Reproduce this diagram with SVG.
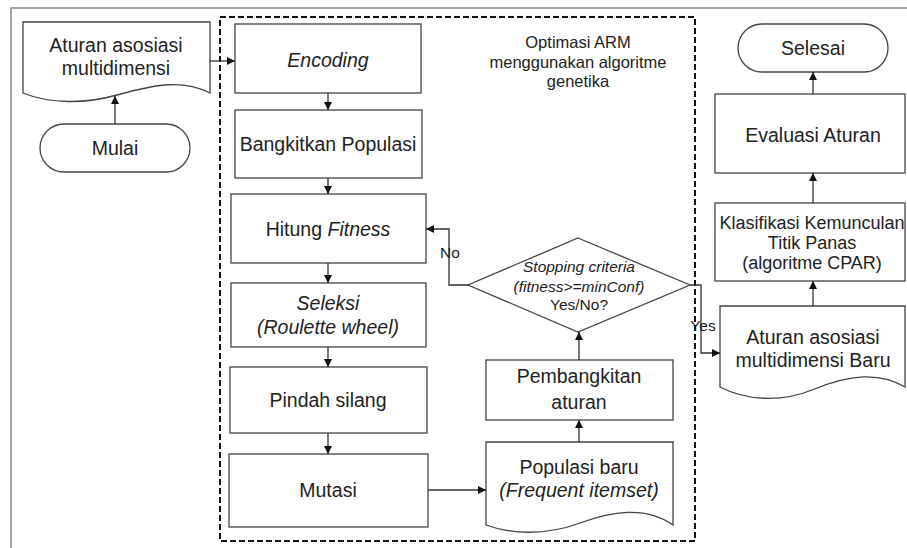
<svg xmlns="http://www.w3.org/2000/svg" width="907" height="548" viewBox="0 0 907 548">
<style>
.n{fill:#fff;stroke:#444;stroke-width:1.3}
.t{font-family:"Liberation Sans",Arial,sans-serif;font-size:19.5px;fill:#222;text-anchor:middle}
.s{font-size:16.5px}
.k{font-size:18px}
.d{font-size:15.5px}
.i{font-style:italic}
.c{fill:none;stroke:#333;stroke-width:1.3;marker-end:url(#a)}
</style>
<defs>
<marker id="a" viewBox="0 0 10 10" refX="10" refY="5" markerWidth="8" markerHeight="8" markerUnits="userSpaceOnUse" orient="auto">
<path d="M0,0 L10,5 L0,10 z" fill="#111"/>
</marker>
</defs>
<rect width="907" height="548" fill="#fff"/>
<path d="M11,548 V8 H907" fill="none" stroke="#888" stroke-width="1.5"/>
<rect id="group-ga" x="220" y="17" width="475" height="524" fill="none" stroke="#111" stroke-width="2" stroke-dasharray="6,3"/>
<g id="title">
<text class="t s" x="578" y="48">Optimasi ARM</text>
<text class="t s" x="578" y="68">menggunakan algoritme</text>
<text class="t s" x="578" y="87">genetika</text>
</g>
<g id="aturan">
<path class="n" d="M23,22 H210 V93 C180,78 150,86 117,95 C85,104 50,104 23,93 Z"/>
<text class="t" x="116" y="52">Aturan asosiasi</text>
<text class="t" x="116" y="75">multidimensi</text>
</g>
<g id="mulai">
<rect class="n" x="40" y="124" width="150" height="48" rx="24"/>
<text class="t" x="115" y="155">Mulai</text>
</g>
<g id="encoding">
<rect class="n" x="235" y="24" width="186" height="69"/>
<text class="t i" x="328" y="67">Encoding</text>
</g>
<g id="bangkitkan">
<rect class="n" x="235" y="110" width="187" height="68"/>
<text class="t" x="328" y="151">Bangkitkan Populasi</text>
</g>
<g id="hitung">
<rect class="n" x="231" y="194" width="195" height="69"/>
<text class="t" x="328" y="236">Hitung <tspan font-style="italic">Fitness</tspan></text>
</g>
<g id="seleksi">
<rect class="n" x="231" y="283" width="195" height="64"/>
<text class="t i" x="328" y="310">Seleksi</text>
<text class="t i" x="328" y="334">(Roulette wheel)</text>
</g>
<g id="pindah">
<rect class="n" x="230" y="367" width="197" height="66"/>
<text class="t" x="328" y="407">Pindah silang</text>
</g>
<g id="mutasi">
<rect class="n" x="229" y="454" width="199" height="73"/>
<text class="t" x="328" y="497">Mutasi</text>
</g>
<g id="populasi">
<path class="n" d="M486,442 H673 V525 C645,505 610,512 580,523 C545,536 510,534 486,525 Z"/>
<text class="t" x="579" y="474">Populasi baru</text>
<text class="t i" x="579" y="497">(Frequent itemset)</text>
</g>
<g id="pembangkitan">
<rect class="n" x="486" y="360" width="187" height="60"/>
<text class="t" x="579" y="383">Pembangkitan</text>
<text class="t" x="579" y="409">aturan</text>
</g>
<g id="stopping">
<path class="n" d="M578,238 L690,285 L578,332 L468,285 Z"/>
<text class="t d i" x="579" y="272">Stopping criteria</text>
<text class="t d i" x="579" y="292">(fitness&gt;=minConf)</text>
<text class="t d" x="579" y="310">Yes/No?</text>
</g>
<g id="baru">
<path class="n" d="M720,306 H905 V387 C880,372 850,374 812,390 C780,403 745,400 720,387 Z"/>
<text class="t" x="813" y="344">Aturan asosiasi</text>
<text class="t" x="813" y="367">multidimensi Baru</text>
</g>
<g id="klasifikasi">
<rect class="n" x="715" y="203" width="190" height="78"/>
<text class="t k" x="812" y="229">Klasifikasi Kemunculan</text>
<text class="t k" x="812" y="249">Titik Panas</text>
<text class="t k" x="812" y="269">(algoritme CPAR)</text>
</g>
<g id="evaluasi">
<rect class="n" x="715" y="94" width="190" height="79"/>
<text class="t" x="813" y="142">Evaluasi Aturan</text>
</g>
<g id="selesai">
<rect class="n" x="738" y="24" width="150" height="48" rx="24"/>
<text class="t" x="813" y="55">Selesai</text>
</g>
<g id="connectors">
<path class="c" d="M115,124 V96"/>
<path class="c" d="M210,61 H235"/>
<path class="c" d="M328,93 V110"/>
<path class="c" d="M328,178 V194"/>
<path class="c" d="M328,263 V283"/>
<path class="c" d="M328,347 V367"/>
<path class="c" d="M328,433 V454"/>
<path class="c" d="M428,490 H486"/>
<path class="c" d="M579,442 V420"/>
<path class="c" d="M579,360 V332"/>
<path class="c" d="M468,285 H449 V229 H426"/>
<path class="c" d="M690,285 H701 V353 H720"/>
<path class="c" d="M813,306 V281"/>
<path class="c" d="M813,203 V173"/>
<path class="c" d="M813,94 V72"/>
<text class="t d" x="450" y="258">No</text>
<text class="t d" x="703" y="331">Yes</text>
</g>
</svg>
